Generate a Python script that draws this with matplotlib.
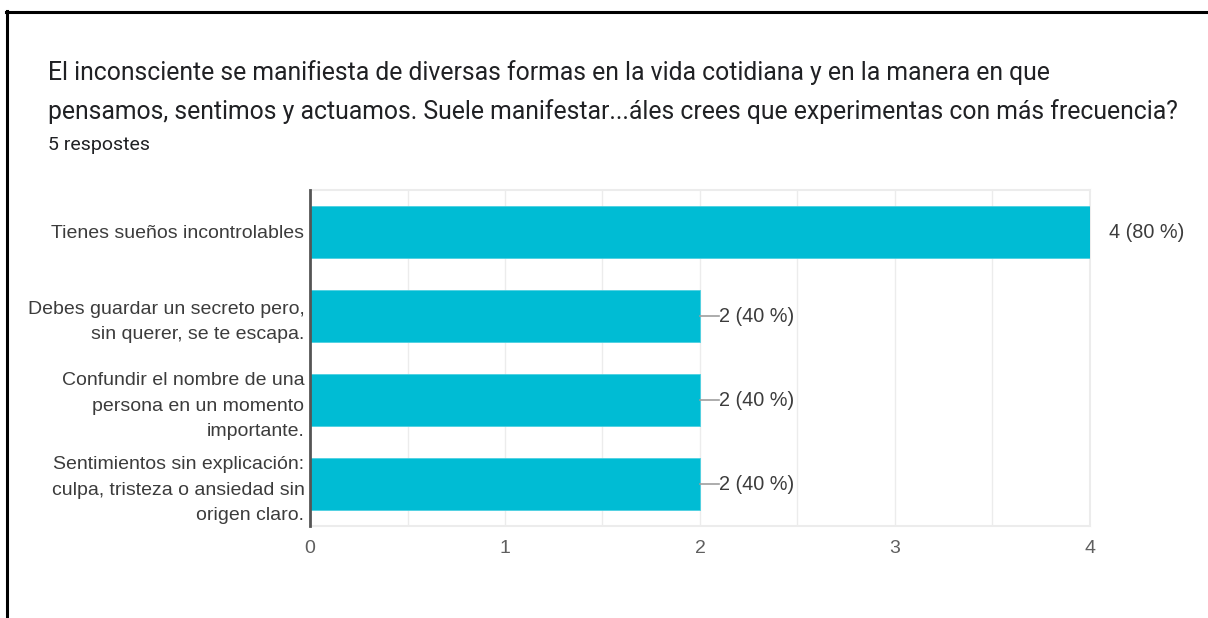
import matplotlib

matplotlib.use("Agg")
import matplotlib.pyplot as plt
from matplotlib.lines import Line2D

# data (Google Forms summary)
TITLE = ("El inconsciente se manifiesta de diversas formas en la vida cotidiana y en la manera en que\n"
         "pensamos, sentimos y actuamos. Suele manifestar...áles crees que experimentas con más frecuencia?")
SUBTITLE = "5 respostes"
categories = [
    "Tienes sueños incontrolables",
    "Debes guardar un secreto pero,\nsin querer, se te escapa.",
    "Confundir el nombre de una\npersona en un momento\nimportante.",
    "Sentimientos sin explicación:\nculpa, tristeza o ansiedad sin\norigen claro.",
]
counts = [4, 2, 2, 2]
percents = [80, 40, 40, 40]
xticks = [0, 1, 2, 3, 4]

CYAN = "#00BCD4"
TEXT = "#3c3c3c"
TICK = "#5f5f5f"
GRID = "#ececec"
W, H = 1208, 618

fig = plt.figure(figsize=(W / 100, H / 100), dpi=100)
fig.patch.set_facecolor("white")

# outer frame (only top and left edges are visible in the screenshot)
fig.add_artist(Line2D([6 / W, 1.0], [1 - 11.5 / H] * 2, color="black", lw=2.2))
fig.add_artist(Line2D([7 / W] * 2, [0.0, 1 - 11 / H], color="black", lw=2.2))

fig.text(48 / W, 1 - 60 / H, TITLE, fontsize=17.8, family="Roboto", color="#202124",
         va="top", ha="left", linespacing=1.7)
fig.text(48 / W, 1 - 145 / H, SUBTITLE, fontsize=14, family="Roboto", color="#202124",
         va="center", ha="left")

ax = fig.add_axes([310 / W, 92 / H, 780 / W, 336 / H])
ypos = list(range(len(categories)))
ax.barh(ypos, counts, height=0.63, color=CYAN, edgecolor="#4dd0e1", linewidth=0.6, zorder=3)
ax.set_ylim(len(categories) - 0.5, -0.5)
ax.set_xlim(0, max(xticks))

ax.set_xticks(xticks)
ax.set_xticks([t + 0.5 for t in xticks[:-1]], minor=True)
ax.grid(axis="x", which="both", color=GRID, lw=1, zorder=0)
ax.tick_params(axis="x", which="both", length=0, pad=10, labelsize=14, labelcolor=TICK)
ax.tick_params(axis="y", length=0, pad=4)
ax.set_yticks(ypos)
ax.set_yticklabels(categories, fontsize=14, color=TEXT, family="Liberation Sans",
                   linespacing=1.62)
for lab in ax.get_xticklabels():
    lab.set_family("Liberation Sans")

for s in ("top", "right", "bottom"):
    ax.spines[s].set_color(GRID)
    ax.spines[s].set_linewidth(1.5)
ax.spines["left"].set_color("#555555")
ax.spines["left"].set_linewidth(2)
ax.spines["left"].set_zorder(5)

# value labels; shorter bars get a small grey leader line
offset = 0.1
for y, c, p in zip(ypos, counts, percents):
    if c < max(counts):
        ax.plot([c, c + offset], [y, y], color="#9e9e9e", lw=1.2, clip_on=False, zorder=4)
    ax.text(c + offset, y, f"{c} ({p} %)", fontsize=14.3, color=TEXT, family="Liberation Sans",
            va="center", ha="left", clip_on=False)

fig.savefig("out.png", dpi=100, facecolor="white")
